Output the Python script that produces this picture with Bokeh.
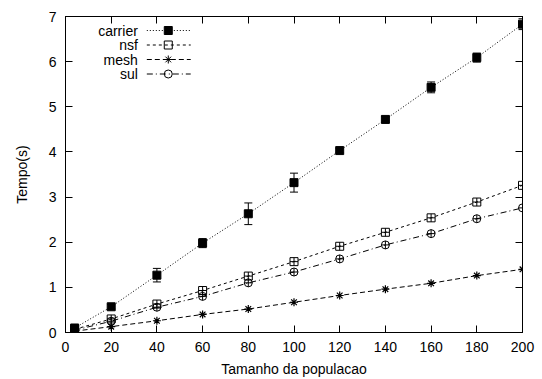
from bokeh.plotting import figure
from bokeh.models import (ColumnDataSource, Whisker, TeeHead, LinearAxis, Range1d,
                          FixedTicker, Label)
from bokeh.embed import file_html
from bokeh.resources import INLINE

# ---- data ----
pop = [4, 20, 40, 60, 80, 100, 120, 140, 160, 180, 200]
carrier = [0.10, 0.57, 1.27, 1.98, 2.63, 3.32, 4.03, 4.72, 5.43, 6.09, 6.83]
carrier_err = [0.03, 0.05, 0.15, 0.10, 0.24, 0.21, 0.05, 0.07, 0.12, 0.10, 0.12]
nsf = [0.07, 0.30, 0.63, 0.93, 1.25, 1.57, 1.91, 2.22, 2.54, 2.89, 3.26]
mesh = [0.03, 0.13, 0.26, 0.40, 0.52, 0.67, 0.82, 0.96, 1.09, 1.26, 1.40]
sul = [0.05, 0.25, 0.56, 0.80, 1.10, 1.34, 1.63, 1.94, 2.19, 2.52, 2.76]
series_names = ["carrier", "nsf", "mesh", "sul"]
x_ticks = [0, 20, 40, 60, 80, 100, 120, 140, 160, 180, 200]
y_ticks = [0, 1, 2, 3, 4, 5, 6, 7]

FONT = "Liberation Sans"
FS = "14px"

p = figure(width=542, height=379, output_backend="svg", toolbar_location=None,
           x_range=Range1d(0, 200), y_range=Range1d(0, 7),
           min_border_left=65, min_border_right=20, min_border_top=16, min_border_bottom=47)
p.background_fill_color = "white"
p.border_fill_color = "white"
p.outline_line_color = "black"
p.outline_line_width = 1
p.grid.visible = False

for ax in (p.xaxis[0], p.yaxis[0]):
    ax.major_tick_in = 7
    ax.major_tick_out = 0
    ax.minor_tick_line_color = None
    ax.axis_line_color = "black"
    ax.major_label_text_font = FONT
    ax.major_label_text_font_size = FS
    ax.major_label_text_color = "black"
    ax.axis_label_text_font = FONT
    ax.axis_label_text_font_size = FS
    ax.axis_label_text_font_style = "normal"
    ax.axis_label_text_color = "black"

p.xaxis[0].ticker = FixedTicker(ticks=x_ticks)
p.yaxis[0].ticker = FixedTicker(ticks=y_ticks)
p.xaxis[0].axis_label = "Tamanho da populacao"
p.yaxis[0].axis_label = "Tempo(s)"
p.xaxis[0].major_label_standoff = 9
p.yaxis[0].major_label_standoff = 9
p.xaxis[0].axis_label_standoff = 6
p.yaxis[0].axis_label_standoff = 16

# mirror axes (ticks only)
top = LinearAxis(ticker=FixedTicker(ticks=x_ticks),
                 major_label_overrides={t: "" for t in x_ticks})
right = LinearAxis(ticker=FixedTicker(ticks=y_ticks),
                   major_label_overrides={t: "" for t in y_ticks})
for ax in (top, right):
    ax.major_tick_in = 7
    ax.major_tick_out = 0
    ax.minor_tick_line_color = None
    ax.major_label_standoff = 0
    ax.axis_line_color = "black"
p.add_layout(top, "above")
p.add_layout(right, "right")

src = ColumnDataSource(dict(
    x=pop, carrier=carrier, nsf=nsf, mesh=mesh, sul=sul,
    lo=[c - e for c, e in zip(carrier, carrier_err)],
    hi=[c + e for c, e in zip(carrier, carrier_err)],
))

dashes = {"carrier": "1 2", "nsf": "3 3", "mesh": "5 3", "sul": "6 3 1 3"}

p.line("x", "carrier", source=src, line_color="black", line_width=1, line_dash=dashes["carrier"])
p.line("x", "nsf", source=src, line_color="black", line_width=1, line_dash=dashes["nsf"])
p.line("x", "mesh", source=src, line_color="black", line_width=1, line_dash=dashes["mesh"])
p.line("x", "sul", source=src, line_color="black", line_width=1, line_dash=dashes["sul"])

p.add_layout(Whisker(source=src, base="x", lower="lo", upper="hi", line_color="black",
                     upper_head=TeeHead(size=8, line_color="black"),
                     lower_head=TeeHead(size=8, line_color="black")))

p.scatter("x", "carrier", source=src, marker="square", size=8, fill_color="black", line_color="black")
p.scatter("x", "nsf", source=src, marker="square_cross", size=8, fill_color=None, line_color="black")
p.scatter("x", "mesh", source=src, marker="asterisk", size=8, line_color="black", line_width=1.2)
p.scatter("x", "sul", source=src, marker="circle_cross", size=8, fill_color=None, line_color="black")

# ---- manual gnuplot-style legend (label left, sample right) ----
def px2x(px):
    return (px - 64.5) / 458.0 * 200.0

def px2y(py):
    return (332.0 - py) / 316.0 * 7.0

rows_px = [30, 44.5, 59, 73.5]
markers = {"carrier": ("square", "black"), "nsf": ("square", None),
           "mesh": ("asterisk", None), "sul": ("circle", None)}
for name, ry in zip(series_names, rows_px):
    yy = px2y(ry)
    p.add_layout(Label(x=px2x(137), y=yy, text=name, text_align="right",
                       text_baseline="middle", text_font=FONT, text_font_size=FS,
                       text_color="black"))
    p.line([px2x(146), px2x(190)], [yy, yy], line_color="black", line_width=1,
           line_dash=dashes[name])
    mk, fc = markers[name]
    p.scatter([px2x(167.5)], [yy], marker=mk, size=8, fill_color=fc, line_color="black")

open("out.html", "w").write(file_html(p, INLINE))
